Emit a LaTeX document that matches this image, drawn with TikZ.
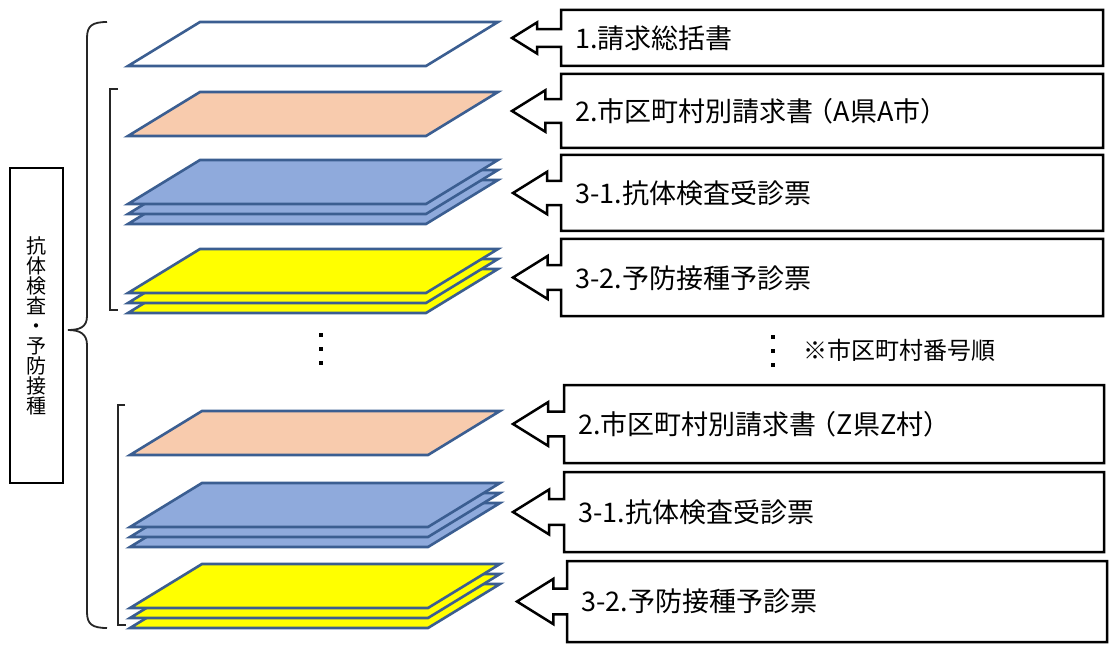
\documentclass[tikz,border=0pt]{standalone}
\usepackage{fontspec}
\setmainfont{Noto Sans CJK JP}
\definecolor{sheetblue}{HTML}{3B5E91}
\definecolor{peach}{HTML}{F8CBAD}
\definecolor{paleblue}{HTML}{8FAADC}
\definecolor{brightyellow}{HTML}{FFFF00}
\newcommand\mysheet[3]{%
  \filldraw[sheetline, fill=#3] (200+#1,#2) -- (498+#1,#2) -- (426+#1,#2+44) -- (128+#1,#2+44) -- cycle;}
\newcommand\mycallout[6]{%
  \pgfmathsetmacro\myCc{(#4+#5)/2}%
  \pgfmathsetmacro\myHh{#5-#4}%
  \pgfmathsetmacro\mySa{0.16*\myHh}%
  \pgfmathsetmacro\myHa{0.28*\myHh}%
  \pgfmathsetmacro\myHx{#6+0.45*\myHh}%
  \draw[boxline] (#2,#4) -- (#3,#4) -- (#3,#5) -- (#2,#5) -- (#2,\myCc+\mySa) -- (\myHx,\myCc+\mySa) -- (\myHx,\myCc+\myHa) -- (#6,\myCc) -- (\myHx,\myCc-\myHa) -- (\myHx,\myCc-\mySa) -- (#2,\myCc-\mySa) -- cycle;
  \coordinate (#1) at (#6,\myCc);}
\begin{document}
\begin{tikzpicture}[x=1pt,y=-1pt,
  sheetline/.style={draw=sheetblue, line width=2.6pt, line join=miter},
  boxline/.style={draw=black, line width=2.5pt, fill=white, line join=miter},
  brk/.style={draw=black!85, line width=1.8pt},
  lab/.style={anchor=west, inner sep=0pt, font=\fontsize{27}{30}\selectfont},
  dotsq/.style={fill=black, inner sep=0pt, minimum size=4pt, rectangle},
]
\useasboundingbox[fill=white] (0,0) rectangle (1113,652);

% upper group sheets
\mysheet{0}{22}{white}
\mysheet{0}{92}{peach}
\mysheet{0}{180}{paleblue}
\mysheet{0}{170}{paleblue}
\mysheet{0}{160}{paleblue}
\mysheet{0}{269}{brightyellow}
\mysheet{0}{259}{brightyellow}
\mysheet{0}{249}{brightyellow}
% lower group sheets
\mysheet{2}{411}{peach}
\mysheet{2}{503}{paleblue}
\mysheet{2}{493}{paleblue}
\mysheet{2}{483}{paleblue}
\mysheet{2}{584}{brightyellow}
\mysheet{2}{574}{brightyellow}
\mysheet{2}{564}{brightyellow}

% callouts
\mycallout{c1}{561}{1103}{10}{66}{512}
\mycallout{c2}{561}{1103}{74}{148}{512}
\mycallout{c3}{561}{1103}{155}{231}{513}
\mycallout{c4}{561}{1103}{239}{316}{513}
\mycallout{c5}{564}{1104}{385}{463}{513}
\mycallout{c6}{564}{1104}{472}{552}{513}
\mycallout{c7}{567}{1107}{561}{642}{517}

\node[lab] (l1) at (575,38) {1.請求総括書};
\node[lab] (l2) at (575,111) {2.市区町村別請求書\kern-0.25em（A県A市）};
\node[lab] (l3) at (575,193) {3-1.抗体検査受診票};
\node[lab] (l4) at (575,278) {3-2.予防接種予診票};
\node[lab] (l5) at (578,424) {2.市区町村別請求書\kern-0.25em（Z県Z村）};
\node[lab] (l6) at (578,512) {3-1.抗体検査受診票};
\node[lab] (l7) at (581,601) {3-2.予防接種予診票};

% dots
\node[dotsq] (d1) at (321,335) {};
\node[dotsq] (d2) at (321,349) {};
\node[dotsq] (d3) at (321,363) {};
\node[dotsq] (d4) at (773,337) {};
\node[dotsq] (d5) at (773,351) {};
\node[dotsq] (d6) at (773,365) {};
\node[anchor=west, inner sep=0pt, font=\fontsize{24}{26}\selectfont] (note) at (803,350) {※市区町村番号順};

% braces and brackets
\draw[brk] (107,22) .. controls (92,22) and (87,26) .. (87,38) -- (87,316) .. controls (87,327) and (80,330) .. (68,330) .. controls (80,330) and (87,334) .. (87,345) -- (87,612) .. controls (87,624) and (92,628) .. (107,628);
\draw[brk] (118,89) -- (110,89) -- (110,310) -- (118,310);
\draw[brk] (125,405) -- (118,405) -- (118,625) -- (126,625);

% side box
\node[draw=black, line width=2pt, minimum width=53pt, minimum height=315pt, inner sep=0pt] (side) at (36.5,325.5) {};
\node[align=center, inner sep=0pt, font=\fontsize{20}{20}\selectfont] (sidetext) at (side.center) {抗\\体\\検\\査\\・\\予\\防\\接\\種};
\end{tikzpicture}
\end{document}
